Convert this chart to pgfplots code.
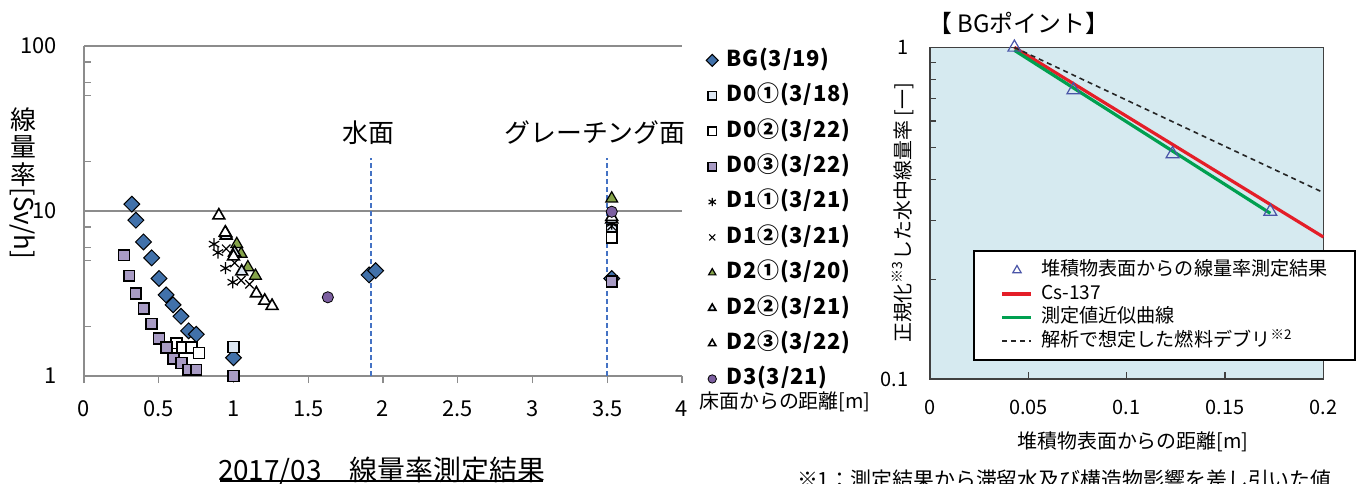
\documentclass[border=0pt]{standalone}
\usepackage{fontspec}
\setmainfont{Noto Sans CJK JP}
\newfontfamily\legfont[LetterSpace=4]{Noto Sans CJK JP}
\usepackage{pgfplots}
\pgfplotsset{compat=1.18}
\pgfplotsset{
  dotlegend/.style={legend image code/.code={\draw[##1] plot coordinates {(0bp,0bp)};}},
  trilegend/.style={legend image code/.code={\draw[##1, mark size=2.4bp] plot coordinates {(7.25bp,0bp)};}},
  linelegend/.style={legend image code/.code={\draw[##1] (0bp,0bp) -- (14.5bp,0bp);}},
}
\definecolor{axgray}{HTML}{8C8C8C}
\definecolor{framegray}{HTML}{404040}
\definecolor{bgc}{RGB}{65,113,170}
\definecolor{lbc}{HTML}{DCE6F2}
\definecolor{pqc}{HTML}{A89BC4}
\definecolor{grc}{HTML}{86A44A}
\definecolor{d3c}{HTML}{7C5FA0}
\definecolor{dashblue}{HTML}{4472C4}
\definecolor{bgblue}{HTML}{D6EAF0}
\definecolor{triblue}{HTML}{4A55A8}
\definecolor{csred}{RGB}{228,30,40}
\definecolor{fitgreen}{RGB}{0,160,80}
\begin{document}
\begin{tikzpicture}
\useasboundingbox (0,0) rectangle (680bp,-242bp);
% ---------------- left chart ----------------
\begin{axis}[
  at={(42bp,-188bp)}, anchor=south west, scale only axis,
  width=299bp, height=165bp,
  xmin=0, xmax=4, ymode=log, ymin=1, ymax=100,
  clip=false,
  axis x line*=bottom, axis y line*=left,
  axis line style={draw=axgray, line width=0.6bp},
  xtick={0,0.5,1,1.5,2,2.5,3,3.5,4},
  xticklabels={0,0.5,1,1.5,2,2.5,3,3.5,4},
  ytick={1,10,100}, yticklabels={1,10,100},
  minor ytick={2,5,6,8,20,50,60,80},
  ymajorgrids, grid style={draw=axgray, line width=0.6bp},
  tick align=inside, tick pos=left,
  major tick length=3.5bp, minor tick length=3.5bp,
  tick style={draw=axgray, line width=0.6bp},
  xtick style={yshift=-3.5bp},
  tick label style={font=\fontsize{11}{13}\selectfont},
  yticklabel style={xshift=-10bp},
  xticklabel style={yshift=-9bp},
  legend style={at={(1.040,0.988)}, anchor=north west, draw=none, fill=none,
    font=\legfont\bfseries\fontsize{11}{12}\selectfont,
    row sep=7.7bp, column sep=4bp, inner sep=0pt,
    nodes={inner sep=0pt, text height=8bp, text depth=2bp}},
  legend cell align=left,
  dotlegend,
  legend image post style={mark size=2.1bp},
]
\addplot[forget plot, color=dashblue, line width=0.8bp, dash pattern=on 2.5bp off 1.5bp] coordinates {(1.92,1) (1.92,21)};
\addplot[forget plot, color=dashblue, line width=0.8bp, dash pattern=on 2.5bp off 1.5bp] coordinates {(3.497,1) (3.497,21)};
% BG(3/19)
\addplot[only marks, mark=square*, mark size=2.8bp, mark options={rotate=45, fill=bgc, draw=black, line width=0.5bp}]
 coordinates {(0.320,11.0) (0.347,8.8) (0.398,6.5) (0.453,5.2) (0.502,3.9) (0.549,3.1) (0.596,2.7) (0.649,2.3) (0.700,1.88) (0.751,1.79) (1.000,1.29) (1.907,4.1) (1.951,4.35) (3.530,3.9)};
\addlegendentry{BG(3/19)}
% D0-1
\addplot[only marks, mark=square*, mark size=2.7bp, mark options={fill=lbc, draw=black, line width=0.8bp}]
 coordinates {(1.000,1.5) (3.530,7.7)};
\addlegendentry{D0①(3/18)}
% D0-2
\addplot[only marks, mark=square*, mark size=2.7bp, mark options={fill=white, draw=black, line width=0.8bp}]
 coordinates {(0.618,1.58) (0.658,1.49) (0.720,1.49) (0.769,1.38) (3.530,6.9)};
\addlegendentry{D0②(3/22)}
% D0-3
\addplot[only marks, mark=square*, mark size=2.7bp, mark options={fill=pqc, draw=black, line width=0.8bp}]
 coordinates {(0.267,5.4) (0.302,4.05) (0.347,3.17) (0.400,2.57) (0.451,2.07) (0.502,1.69) (0.551,1.49) (0.598,1.28) (0.651,1.20) (0.698,1.09) (0.751,1.09) (1.000,1.00) (3.530,3.75)};
\addlegendentry{D0③(3/22)}
% D1-1
\addplot[only marks, mark=asterisk, mark size=3bp, mark options={draw=black, line width=0.6bp}]
 coordinates {(0.870,6.3) (0.896,5.6) (0.947,4.5) (0.995,3.7) (3.530,8.4)};
\addlegendentry{D1①(3/21)}
% D1-2
\addplot[only marks, mark=x, mark size=3bp, mark options={draw=black, line width=0.6bp}]
 coordinates {(0.951,5.9) (1.007,4.85) (1.051,3.8) (1.107,3.6) (3.530,8.1)};
\addlegendentry{D1②(3/21)}
% D2-1
\addplot[only marks, mark=triangle*, mark size=3.4bp, mark options={fill=grc, draw=black, line width=0.6bp}]
 coordinates {(0.951,7.3) (1.022,6.3) (1.051,5.5) (1.096,4.56) (1.147,4.05) (3.530,11.9)};
\addlegendentry{D2①(3/20)}
% D2-2
\addplot[only marks, mark=triangle*, mark size=3.4bp, mark options={fill=lbc, draw=black, line width=0.8bp}]
 coordinates {(0.951,7.1) (1.007,5.6) (1.055,4.3) (3.530,8.9)};
\addlegendentry{D2②(3/21)}
% D2-3
\addplot[only marks, mark=triangle*, mark size=3.4bp, mark options={fill=white, draw=black, line width=0.8bp}]
 coordinates {(0.902,9.4) (0.945,7.4) (1.000,5.3) (1.153,3.17) (1.209,2.86) (1.258,2.66) (3.530,9.2)};
\addlegendentry{D2③(3/22)}
% D3
\addplot[only marks, mark=*, mark size=2.8bp, mark options={fill=d3c, draw=none}]
 coordinates {(1.631,3.0) (3.530,9.9)};
\addlegendentry{D3(3/21)}
\node[font=\fontsize{13}{13}\selectfont] at (axis cs:1.90,30) {水面};
\node[font=\fontsize{13}{13}\selectfont] at (axis cs:3.418,30) {グレーチング面};
\end{axis}
\node[font=\fontsize{13}{13.75}\selectfont, align=center] at (11.5bp,-73.5bp) {線\\量\\率};
\node[font=\fontsize{13}{13}\selectfont, rotate=-90] at (11.25bp,-111.75bp) {[Sv/h]};
\node[font=\fontsize{10}{12}\selectfont] at (392.5bp,-201bp) {床面からの距離[m]};
\node[font=\fontsize{14}{16}\selectfont] at (190.75bp,-235.5bp) {2017/03　線量率測定結果};
\draw[line width=0.7bp] (110bp,-240.5bp) -- (271.5bp,-240.5bp);
% ---------------- right chart ----------------
\begin{axis}[
  at={(465bp,-189.5bp)}, anchor=south west, scale only axis,
  width=196.7bp, height=165.8bp,
  xmin=0, xmax=0.2, ymode=log, ymin=0.1, ymax=1,
  clip=false,
  axis background/.style={fill=bgblue},
  axis line style={draw=framegray, line width=0.7bp},
  xtick={0,0.05,0.1,0.15,0.2}, xticklabels={0,0.05,0.1,0.15,0.2},
  ytick={0.1,1}, yticklabels={0.1,1},
  minor ytick={0.2,0.3,0.4,0.5,0.6,0.7,0.8,0.9},
  tick align=inside, tick pos=left,
  major tick length=3.5bp, minor tick length=3bp,
  tick style={draw=framegray, line width=0.6bp},
  tick label style={font=\fontsize{10}{12}\selectfont},
  yticklabel style={xshift=-7.3bp},
  xticklabel style={yshift=-6.8bp},
  legend style={at={(0.109,0.389)}, anchor=north west, draw=black, line width=1bp, fill=white,
    font=\fontsize{9.6}{11}\selectfont,
    row sep=2.1bp, column sep=4bp, inner xsep=13.5bp, inner ysep=4.8bp,
    nodes={inner sep=0pt, text height=7.5bp, text depth=2.2bp}},
  legend cell align=left,
]
\addplot[only marks, mark=triangle, mark size=3.7bp, mark options={draw=triblue, line width=0.6bp}, trilegend]
 coordinates {(0.0429,1.0) (0.0729,0.744) (0.1233,0.477) (0.173,0.32)};
\addlegendentry{堆積物表面からの線量率測定結果}
\addplot[color=csred, line width=1.6bp, linelegend]
 coordinates {(0.0429,1.0) (0.2,0.268)};
\addlegendentry{Cs-137}
\addplot[color=fitgreen, line width=1.6bp, linelegend]
 coordinates {(0.0429,0.98) (0.173,0.316)};
\addlegendentry{測定値近似曲線}
\addplot[color=black!85, line width=0.8bp, dash pattern=on 2.5bp off 2bp, linelegend]
 coordinates {(0.0429,1.0) (0.2,0.365)};
\addlegendentry{解析で想定した燃料デブリ\textsuperscript{※2}}
\end{axis}
\node[font=\fontsize{12}{14}\selectfont, anchor=west] at (460.5bp,-11.5bp) {【 BGポイント】};
\node[font=\fontsize{10}{12}\selectfont, rotate=90] at (451.5bp,-106.5bp) {正規化\textsuperscript{※3}した水中線量率 [一]};
\node[font=\fontsize{10}{12}\selectfont] at (566.5bp,-221bp) {堆積物表面からの距離[m]};
\node[font=\fontsize{10.5}{12}\selectfont, anchor=west] at (395bp,-240bp) {※1：測定結果から滞留水及び構造物影響を差し引いた値};
\end{tikzpicture}
\end{document}
